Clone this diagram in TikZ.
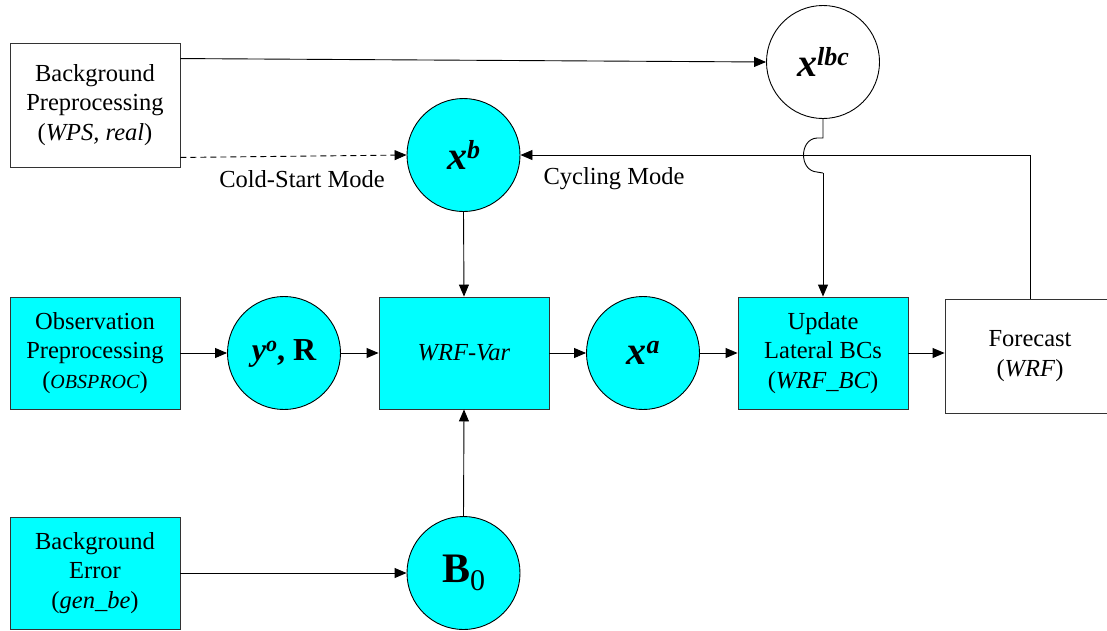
\documentclass[tikz,border=0pt]{standalone}
\usepackage{fontspec}
\setmainfont{LiberationSerif}[Extension=.ttf,UprightFont=*-Regular,ItalicFont=*-Italic,BoldFont=*-Bold,BoldItalicFont=*-BoldItalic]
\usetikzlibrary{arrows.meta,calc}
\definecolor{cy}{HTML}{00FFFF}
\begin{document}
\begin{tikzpicture}[x=1pt,y=-1pt,
  box/.style={draw=black!80,line width=0.9pt,minimum width=170pt,minimum height=112pt,inner sep=0pt,align=center,font=\fontsize{24.5}{29.5}\selectfont},
  cbox/.style={box,fill=cy},
  circ/.style={circle,draw=black,line width=0.9pt,minimum size=113pt,inner sep=0pt},
  ccirc/.style={circ,fill=cy},
  lab/.style={font=\fontsize{24.5}{29.5}\selectfont,inner sep=0pt},
  arr/.style={line width=0.9pt,-{Triangle[length=12pt,width=10pt]}},
  ln/.style={line width=0.9pt}]
\useasboundingbox (0,0) rectangle (1107,630);
% boxes
\node[box,minimum height=124pt] (bgpre) at (95,105) {Background\\Preprocessing\\(\textit{WPS, real})};
\node[cbox] (obs) at (95,353) {Observation\\Preprocessing\\({\fontsize{20}{24}\selectfont\textit{OBSPROC}})};
\node[cbox] (wrfvar) at (464,353) {\textit{WRF-Var}};
\node[cbox] (upd) at (823,353) {Update\\Lateral BCs\\(\textit{WRF\_BC})};
\node[box,minimum height=114pt] (fcst) at (1030,356) {Forecast\\(\textit{WRF})};
\node[cbox] (bgerr) at (95,573) {Background\\Error\\(\textit{gen\_be})};
% circles
\node[circ] (xlbc) at (823,62) {{\fontsize{40}{40}\selectfont\bfseries\itshape x\raisebox{11pt}{\fontsize{26}{26}\selectfont lbc}}};
\node[ccirc] (xb) at (463.5,155) {{\fontsize{40}{40}\selectfont\bfseries\itshape x\raisebox{11pt}{\fontsize{26}{26}\selectfont b}}};
\node[ccirc] (yo) at (284,353) {{\fontsize{32}{32}\selectfont\bfseries\itshape y\raisebox{9pt}{\fontsize{22}{22}\selectfont o}\upshape, R}};
\node[ccirc] (xa) at (643,353) {{\fontsize{40}{40}\selectfont\bfseries\itshape x\raisebox{11pt}{\fontsize{26}{26}\selectfont a}}};
\node[ccirc] (B0) at (463.5,573) {{\fontsize{42}{42}\selectfont\bfseries B\raisebox{-8pt}{\mdseries\fontsize{30}{30}\selectfont 0}}};
% labels
\node[lab] (cold) at (302,179) {Cold-Start Mode};
\node[lab] (cyc) at (614,179) {Cycling Mode};
% connectors
\draw[arr] ($(bgpre.north east)+(0,16)$) -- (xlbc.west);
\draw[arr,dash pattern=on 6pt off 4pt] ($(bgpre.south east)+(0,-10)$) -- (xb.west);
\draw[arr] (fcst.north) |- (xb.east);
\coordinate (bt) at (823,138);
\coordinate (bb) at (823,173);
\draw[ln] (xlbc.south) -- (bt) -- (817,138) .. controls (799,139) and (799,171) .. (817,172) -- (bb);
\draw[arr] (bb) -- (upd.north);
\draw[arr] (xb.south) -- (wrfvar.north);
\draw[arr] (obs) -- (yo);
\draw[arr] (yo) -- (wrfvar);
\draw[arr] (wrfvar) -- (xa);
\draw[arr] (xa) -- (upd);
\draw[arr] (upd.east) -- (upd.east -| fcst.west);
\draw[arr] (B0.north) -- (wrfvar.south);
\draw[arr] (bgerr) -- (B0);
\end{tikzpicture}
\end{document}
